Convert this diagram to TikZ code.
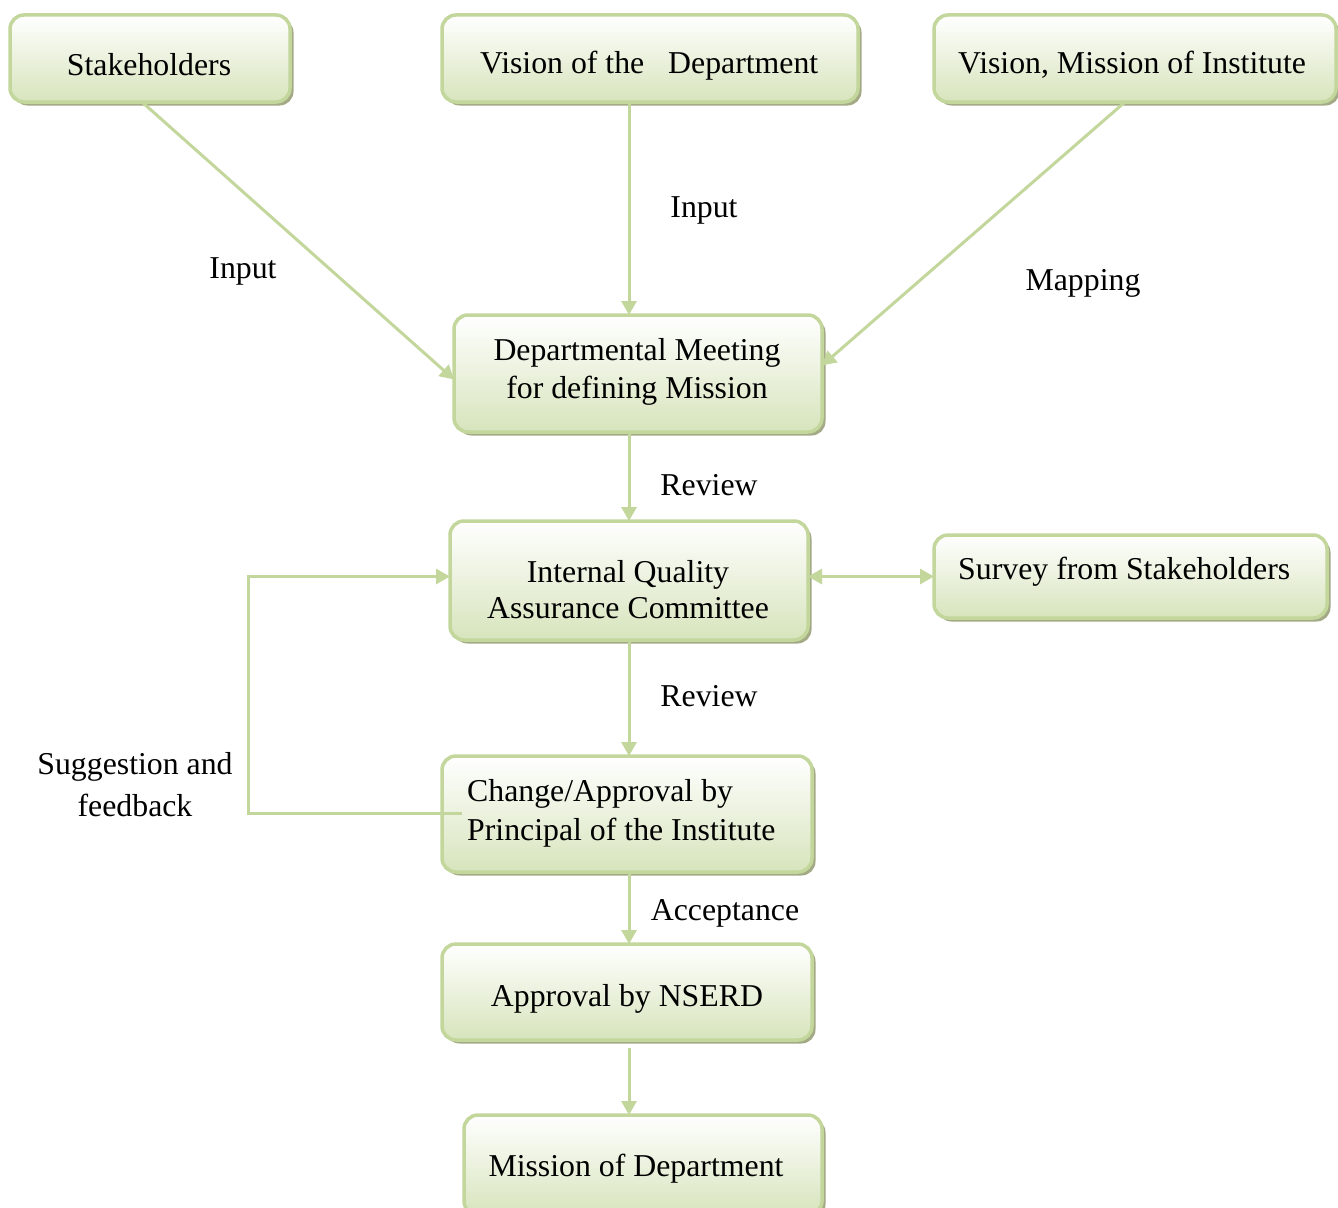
\documentclass[tikz,border=0pt]{standalone}
\usepackage{fontspec}
\setmainfont{Liberation Serif}
\usetikzlibrary{arrows.meta,shadows,calc}

\definecolor{boxline}{HTML}{C3D69B}
\definecolor{boxmid}{HTML}{EEF3E2}
\definecolor{boxbot}{HTML}{D7E4BC}
\definecolor{boxshade}{HTML}{A4A986}

\tikzset{
  box/.style={draw=boxline, line width=3.5pt, rounded corners=14pt,
    top color=white, middle color=boxmid, bottom color=boxbot,
    drop shadow={shadow xshift=3.5pt, shadow yshift=-3.5pt, opacity=1, fill=boxshade},
    inner sep=0pt, outer sep=0pt},
  txt/.style={font=\fontsize{31.8}{37}\selectfont, inner sep=0pt, anchor=base},
  txtl/.style={txt, anchor=base west},
  conn/.style={draw=boxline, line width=3pt},
  arr/.style={conn, -{Triangle[length=14pt,width=15pt]}},
  darr/.style={conn, {Triangle[length=14pt,width=15pt]}-{Triangle[length=14pt,width=15pt]}}
}

\begin{document}
\begin{tikzpicture}[x=1pt, y=-1pt]
\useasboundingbox (0,0) rectangle (1338,1207);
\clip (0,0) rectangle (1338,1207);

% boxes
\node[box, minimum width=280pt, minimum height=87pt] (sh) at (150,58.5) {};
\node[box, minimum width=416pt, minimum height=87pt] (vd) at (650,58.5) {};
\node[box, minimum width=402pt, minimum height=87pt] (vi) at (1135,58.5) {};
\node[box, minimum width=368pt, minimum height=117pt] (dm) at (638,373.5) {};
\node[box, minimum width=358pt, minimum height=119pt] (iq) at (629,580.5) {};
\node[box, minimum width=393pt, minimum height=83pt] (sv) at (1130.5,576.5) {};
\node[box, minimum width=370pt, minimum height=116pt] (ch) at (627,814) {};
\node[box, minimum width=370pt, minimum height=96pt] (ns) at (627,992) {};
\node[box, minimum width=358pt, minimum height=100pt] (ms) at (643,1165) {};

% box texts
\node[txt] (tsh) at (149,75) {Stakeholders};
\node[txtl] (tvd) at (480,74) {Vision of the\ \ \ Department};
\node[txtl] (tvi) at (958,74) {Vision, Mission of Institute};
\node[txt] (tdm1) at (637,360) {Departmental Meeting};
\node[txt] (tdm2) at (637,398) {for defining Mission};
\node[txt] (tiq1) at (628,582) {Internal Quality};
\node[txt] (tiq2) at (628,618) {Assurance Committee};
\node[txtl] (tsv) at (958,579) {Survey from Stakeholders};
\node[txtl] (tch1) at (467,801) {Change/Approval by};
\node[txtl] (tch2) at (467,840) {Principal of the Institute};
\node[txt] (tns) at (627,1006) {Approval by NSERD};
\node[txt] (tms) at (636,1176) {Mission of Department};

% connector labels
\node[txt] (l1) at (243,278) {Input};
\node[txt] (l2) at (704,217) {Input};
\node[txt] (l3) at (1083,290) {Mapping};
\node[txt] (l4) at (709,495) {Review};
\node[txt] (l5) at (709,706) {Review};
\node[txt] (l6) at (725,920) {Acceptance};
\node[txt] (l7) at (135,774) {Suggestion and};
\node[txt] (l8) at (135,816) {feedback};

% connectors
\coordinate (fb) at (248,0);
\draw[arr] ($(sh.south)+(-8,0)$) -- ($(dm.west)+(0,6)$);
\draw[arr] (vd.south -| iq.north) -- (dm.north -| iq.north);
\draw[arr] ($(vi.south)+(-10,0)$) -- ($(dm.east)+(0,-8)$);
\draw[arr] (dm.south -| iq.north) -- (iq.north);
\draw[darr] (sv.west -| iq.east) -- (sv.west);
\draw[arr] (iq.south) -- (ch.north -| iq.south);
\draw[arr] (ch.south -| iq.south) -- (ns.north -| iq.south);
\draw[arr] ($(ns.south -| iq.south)+(0,8)$) -- (ms.north -| iq.south);
\draw[arr] ($(ch.west)+(20,-1)$) -| (fb |- sv.west) -- (sv.west -| iq.west);
\end{tikzpicture}
\end{document}
